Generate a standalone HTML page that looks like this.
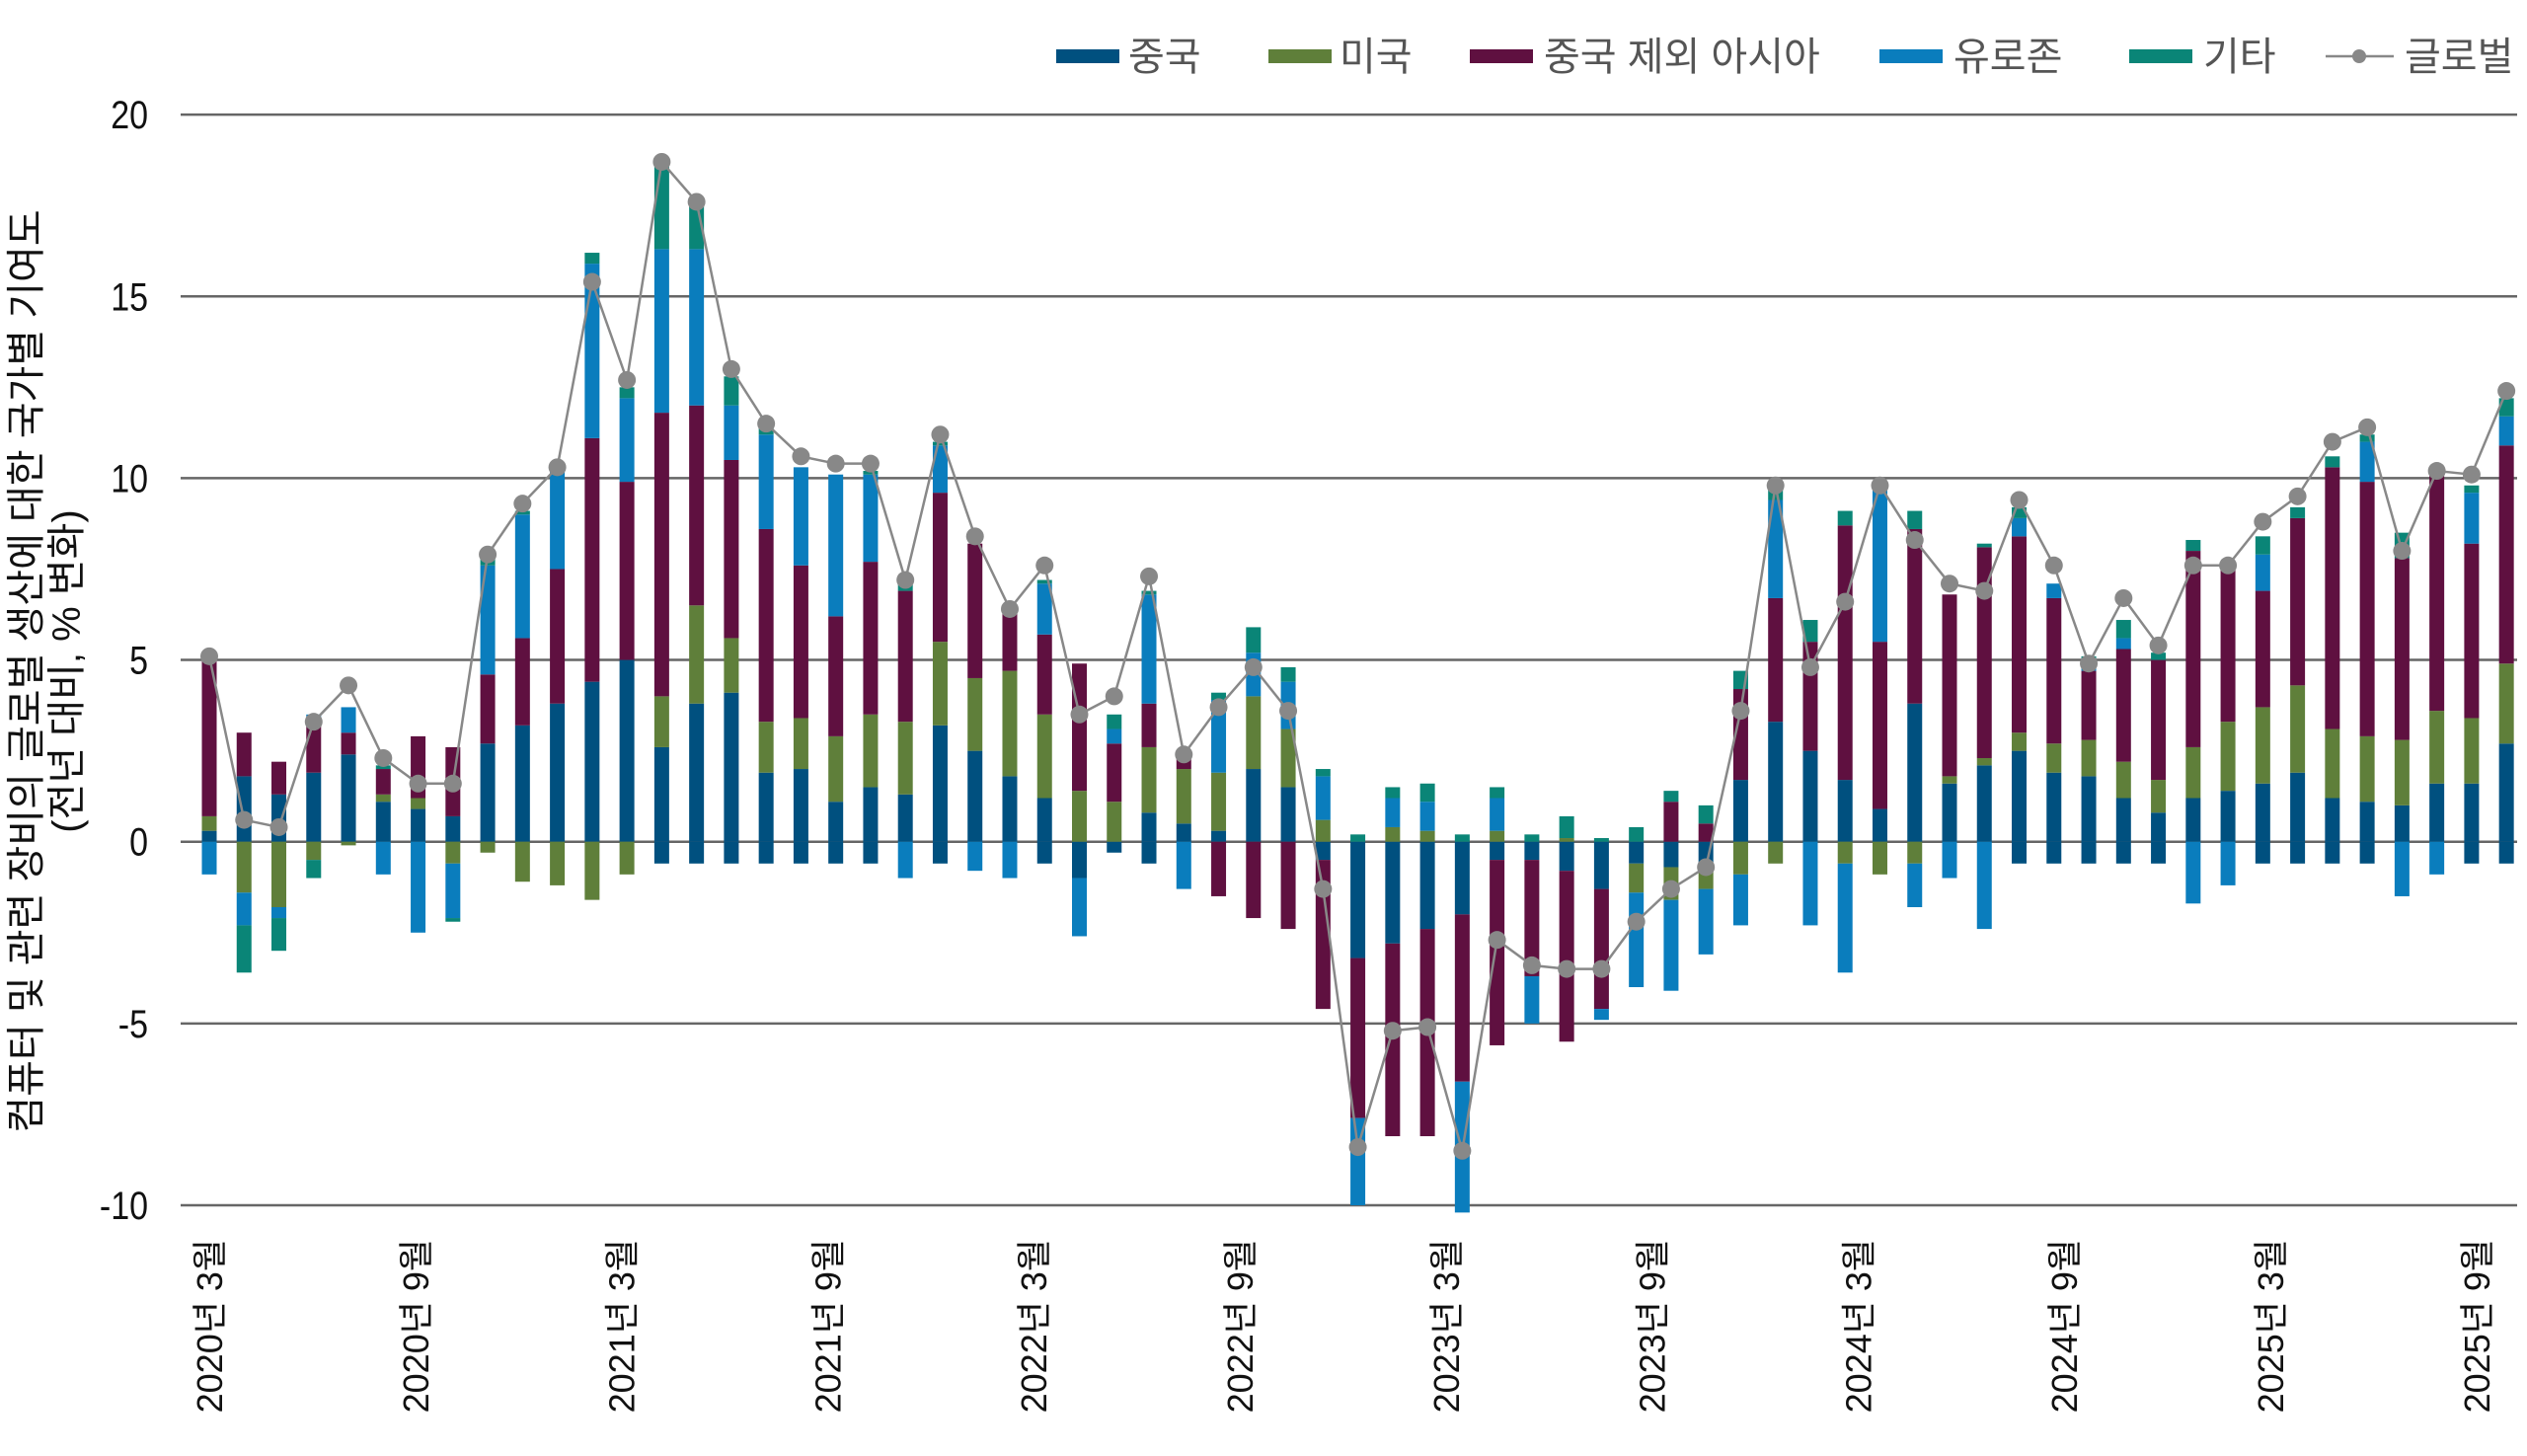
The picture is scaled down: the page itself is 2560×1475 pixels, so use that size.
<!DOCTYPE html>
<html><head><meta charset="utf-8"><style>
html,body{margin:0;padding:0;background:#fff;}
svg{display:block;}
text{font-family:"Liberation Sans","Noto Sans CJK KR",sans-serif;}
</style></head><body>
<svg id="c" width="2560" height="1475" xmlns="http://www.w3.org/2000/svg"></svg>
<script>
const S=document.getElementById('c');
const cols=['#00507f','#5f7f3a','#5f1040','#0a7dbd','#0a8577'];
const y0=852.7,k=36.83;
const Y=v=>y0-v*k;
const X=i=>212+i*35.26;
let h='';
for(let v=-10;v<=20;v+=5){h+=`<line x1="183" x2="2550" y1="${Y(v)}" y2="${Y(v)}" stroke="#666" stroke-width="2.5"/>`;
h+=`<text transform="translate(150,${Y(v)+14}) scale(0.85,1)" font-size="40" text-anchor="end" fill="#111">${v}</text>`;}
const D=[
[0.3,0.4,4.3,-0.9,0],[1.8,-1.4,1.2,-0.9,-1.3],[1.3,-1.8,0.9,-0.3,-0.9],[1.9,-0.5,1.3,0.3,-0.5],[2.4,-0.1,0.6,0.7,0],
[1.1,0.2,0.7,-0.9,0.1],[0.9,0.3,1.7,-2.5,0],[0.7,-0.6,1.9,-1.5,-0.1],[2.7,-0.3,1.9,3.0,0.3],[3.2,-1.1,2.4,3.4,0.1],
[3.8,-1.2,3.7,2.7,0.1],[4.4,-1.6,6.7,4.8,0.3],[5.0,-0.9,4.9,2.3,0.3],[2.6,1.4,7.8,4.5,2.4],[3.8,2.7,5.5,4.3,1.3],
[4.1,1.5,4.9,1.5,0.8],[1.9,1.4,5.3,2.6,0.3],[2.0,1.4,4.2,2.7,0],[1.1,1.8,3.3,3.9,0],[1.5,2.0,4.2,2.4,0.1],
[1.3,2.0,3.6,-1.0,0.2],[3.2,2.3,4.1,1.3,0.1],[2.5,2.0,3.7,-0.8,0],[1.8,2.9,1.6,-1.0,0.1],[1.2,2.3,2.2,1.4,0.1],
[-1.0,1.4,3.5,-1.6,0],[-0.3,1.1,1.6,0.4,0.4],[0.8,1.8,1.2,3.0,0.1],[0.5,1.5,0.3,-1.3,0],[0.3,1.6,-1.5,2.0,0.2],
[2.0,2.0,-2.1,1.2,0.7],[1.5,1.6,-2.4,1.3,0.4],[-0.5,0.6,-4.1,1.2,0.2],[-3.2,0,-4.4,-2.4,0.2],[-2.8,0.4,-5.3,0.8,0.3],
[-2.4,0.3,-5.7,0.8,0.5],[-2.0,0,-4.6,-3.6,0.2],[-0.5,0.3,-5.1,0.9,0.3],[-0.5,0,-3.2,-1.3,0.2],[-0.8,0.1,-4.7,0,0.6],
[-1.3,0,-3.3,-0.3,0.1],[-0.6,-0.8,0,-2.6,0.4],[-0.7,-0.9,1.1,-2.5,0.3],[-0.7,-0.6,0.5,-1.8,0.5],[1.7,-0.9,2.5,-1.4,0.5],
[3.3,-0.6,3.4,2.7,0.3],[2.5,0,3.0,-2.3,0.6],[1.7,-0.6,7.0,-3.0,0.4],[0.9,-0.9,4.6,4.3,0],[3.8,-0.6,4.8,-1.2,0.5],
[1.6,0.2,5.0,-1.0,0],[2.1,0.2,5.8,-2.4,0.1],[2.5,0.5,5.4,0.5,0.3],[1.9,0.8,4.0,0.4,0],[1.8,1.0,1.9,0.3,0.1],
[1.2,1.0,3.1,0.3,0.5],[0.8,0.9,3.3,0,0.2],[1.2,1.4,5.4,-1.7,0.3],[1.4,1.9,4.2,-1.2,0],[1.6,2.1,3.2,1.0,0.5],
[1.9,2.4,4.6,0,0.3],[1.2,1.9,7.2,0,0.3],[1.1,1.8,7.0,1.1,0.2],[1.0,1.8,5.0,-1.5,0.7],[1.6,2.0,6.5,-0.9,0],
[1.6,1.8,4.8,1.4,0.2],[2.7,2.2,6.0,0.8,0.5]];
const G=[5.1,0.6,0.4,3.3,4.3,2.3,1.6,1.6,7.9,9.3,10.3,15.4,12.7,18.7,17.6,13.0,11.5,10.6,10.4,10.4,7.2,11.2,8.4,6.4,7.6,3.5,4.0,7.3,2.4,3.7,4.8,3.6,-1.3,-8.4,-5.2,-5.1,-8.5,-2.7,-3.4,-3.5,-3.5,-2.2,-1.3,-0.7,3.6,9.8,4.8,6.6,9.8,8.3,7.1,6.9,9.4,7.6,4.9,6.7,5.4,7.6,7.6,8.8,9.5,11.0,11.4,8.0,10.2,10.1,12.4];
D.forEach((d,i)=>{
 let p=0,n=0;const x=X(i)-7.5;
 const hasNeg=d.some(v=>v<0);
 if(!hasNeg){h+=`<rect x="${x}" y="${Y(0)}" width="15" height="${0.6*k}" fill="${cols[0]}"/>`;}
 d.forEach((v,j)=>{
  if(v>0){h+=`<rect x="${x}" y="${Y(p+v)}" width="15" height="${v*k}" fill="${cols[j]}"/>`;p+=v;}
  else if(v<0){h+=`<rect x="${x}" y="${Y(n)}" width="15" height="${-v*k}" fill="${cols[j]}"/>`;n+=v;}
 });
});
h+=`<polyline fill="none" stroke="#888" stroke-width="2.5" points="${G.map((g,i)=>X(i)+','+Y(g)).join(' ')}"/>`;
G.forEach((g,i)=>{h+=`<circle cx="${X(i)}" cy="${Y(g)}" r="9" fill="#888"/>`;});
const labs=['2020년 3월','2020년 9월','2021년 3월','2021년 9월','2022년 3월','2022년 9월','2023년 3월','2023년 9월','2024년 3월','2024년 9월','2025년 3월','2025년 9월'];
labs.forEach((t,j)=>{const x=225+j*208.8;h+=`<text transform="translate(${x},1255) rotate(-90)" font-size="36" text-anchor="end" fill="#111">${t}</text>`;});
h+=`<text transform="translate(40,680) rotate(-90)" font-size="40" text-anchor="middle" fill="#111">컴퓨터 및 관련 장비의 글로벌 생산에 대한 국가별 기여도</text>`;
h+=`<text transform="translate(81,680) rotate(-90)" font-size="40" text-anchor="middle" fill="#111">(전년 대비, % 변화)</text>`;
const L=[[1070,1143,'중국',0],[1285,1357,'미국',1],[1489,1564,'중국 제외 아시아',2],[1904,1979,'유로존',3],[2157,2232,'기타',4]];
L.forEach(l=>{h+=`<rect x="${l[0]}" y="50" width="64" height="14" fill="${cols[l[3]]}"/><text x="${l[1]}" y="71" font-size="40" fill="#555">${l[2]}</text>`;});
h+=`<line x1="2356" x2="2425" y1="57" y2="57" stroke="#888" stroke-width="2.5"/><circle cx="2390" cy="57" r="7" fill="#888"/><text x="2436" y="71" font-size="40" fill="#555">글로벌</text>`;
S.innerHTML=h;
</script>
</body></html>
